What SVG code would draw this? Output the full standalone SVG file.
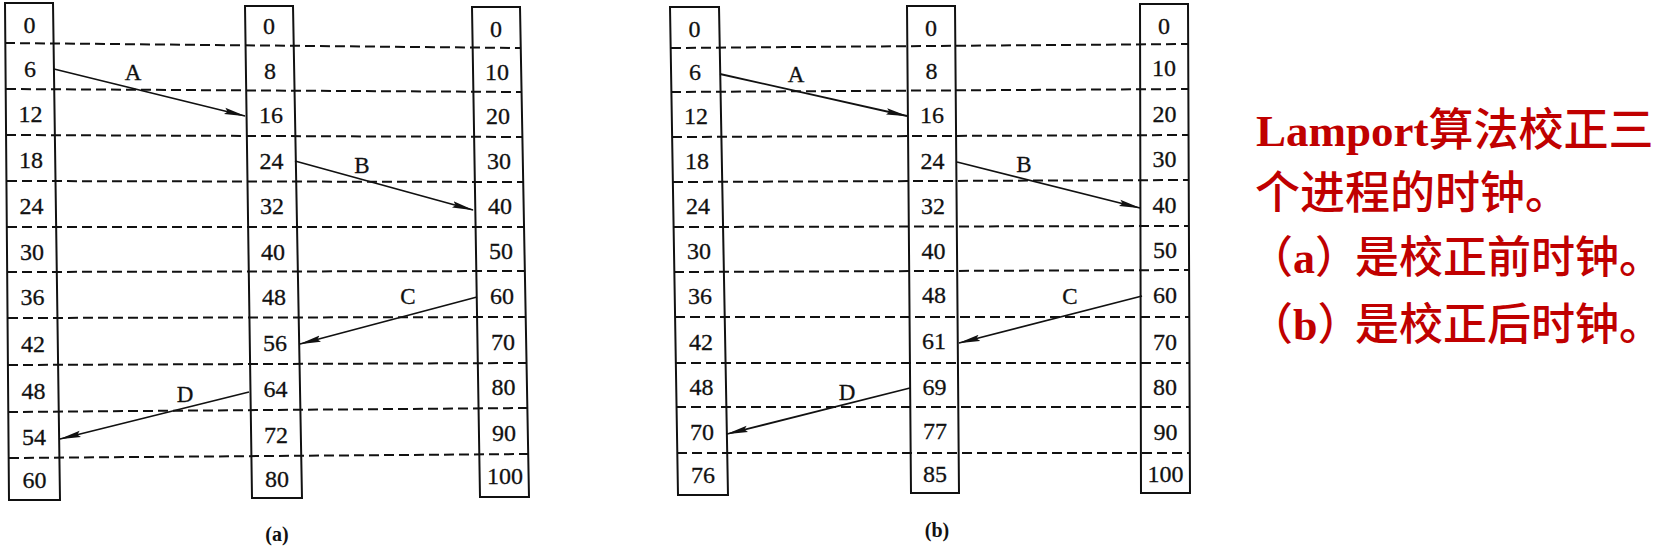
<svg xmlns="http://www.w3.org/2000/svg" width="1663" height="552" viewBox="0 0 1663 552">
<style>
.col{fill:none;stroke:#111;stroke-width:2}
.dash{stroke:#111;stroke-width:2;stroke-dasharray:10 5;fill:none}
.num{font-family:"Liberation Serif","Times New Roman",serif;font-size:24px;text-anchor:middle;fill:#111;stroke:#111;stroke-width:0.3}
.lbl{font-family:"Liberation Serif","Times New Roman",serif;font-size:23px;text-anchor:middle;fill:#111;stroke:#111;stroke-width:0.3}
.cap{font-family:"Liberation Serif","Times New Roman",serif;font-size:20px;font-weight:bold;text-anchor:middle;fill:#111}
.msg{stroke:#111;stroke-width:1.8;fill:none;marker-end:url(#ah)}
.red{font-family:"Noto Sans CJK SC",sans-serif;font-size:45px;font-weight:500;fill:#C00000}
.red2{font-family:"Noto Sans CJK SC",sans-serif;font-size:44px;font-weight:500;fill:#C00000}
.rb{font-family:"Liberation Serif","Times New Roman",serif;font-weight:bold}
</style>
<defs>
<marker id="ah" viewBox="0 0 22 8" refX="21" refY="4" markerWidth="22" markerHeight="8" markerUnits="userSpaceOnUse" orient="auto">
<path d="M0,0.8 L22,4 L0,7.2 L3,4 z" fill="#111"/>
</marker>
</defs>
<rect width="1663" height="552" fill="#fff"/>

<g id="grid-a">
<line class="dash" x1="5" y1="43" x2="521" y2="48"/>
<line class="dash" x1="6" y1="89" x2="522" y2="92"/>
<line class="dash" x1="6" y1="135" x2="522" y2="137"/>
<line class="dash" x1="7" y1="181" x2="523" y2="182"/>
<line class="dash" x1="7" y1="227" x2="524" y2="227"/>
<line class="dash" x1="7" y1="272" x2="525" y2="271"/>
<line class="dash" x1="8" y1="318" x2="526" y2="317"/>
<line class="dash" x1="8" y1="365" x2="527" y2="363"/>
<line class="dash" x1="8" y1="412" x2="527" y2="408"/>
<line class="dash" x1="9" y1="458" x2="528" y2="454"/>
</g>
<g id="grid-b">
<line class="dash" x1="671" y1="48" x2="1188" y2="44"/>
<line class="dash" x1="671" y1="92" x2="1188" y2="89"/>
<line class="dash" x1="672" y1="137" x2="1189" y2="135"/>
<line class="dash" x1="673" y1="182" x2="1189" y2="180"/>
<line class="dash" x1="674" y1="227" x2="1189" y2="226"/>
<line class="dash" x1="674" y1="272" x2="1189" y2="270"/>
<line class="dash" x1="675" y1="317" x2="1189" y2="317"/>
<line class="dash" x1="676" y1="363" x2="1189" y2="363"/>
<line class="dash" x1="676" y1="407" x2="1190" y2="407"/>
<line class="dash" x1="677" y1="453" x2="1190" y2="453"/>
</g>

<g id="a-p1">
<polygon class="col" points="5,3 53,3 60,500 9,500"/>
<text class="num" x="29.5" y="33">0</text>
<text class="num" x="30" y="77">6</text>
<text class="num" x="30.5" y="122">12</text>
<text class="num" x="31" y="168">18</text>
<text class="num" x="31.5" y="214">24</text>
<text class="num" x="32" y="260">30</text>
<text class="num" x="32.5" y="305">36</text>
<text class="num" x="33" y="352">42</text>
<text class="num" x="33.5" y="399">48</text>
<text class="num" x="34" y="445">54</text>
<text class="num" x="34.5" y="488">60</text>
</g>
<g id="a-p2">
<polygon class="col" points="245,6 293,6 302,498 252,498"/>
<text class="num" x="269" y="34">0</text>
<text class="num" x="270" y="79">8</text>
<text class="num" x="271" y="123">16</text>
<text class="num" x="271.5" y="169">24</text>
<text class="num" x="272" y="214">32</text>
<text class="num" x="273" y="260">40</text>
<text class="num" x="274" y="305">48</text>
<text class="num" x="275" y="351">56</text>
<text class="num" x="275.5" y="397">64</text>
<text class="num" x="276" y="443">72</text>
<text class="num" x="277" y="487">80</text>
</g>
<g id="a-p3">
<polygon class="col" points="472,7 520,7 529,497 480,497"/>
<text class="num" x="496" y="37">0</text>
<text class="num" x="497" y="80">10</text>
<text class="num" x="498" y="124">20</text>
<text class="num" x="499" y="169">30</text>
<text class="num" x="500" y="214">40</text>
<text class="num" x="501" y="259">50</text>
<text class="num" x="502" y="304">60</text>
<text class="num" x="503" y="350">70</text>
<text class="num" x="503.5" y="395">80</text>
<text class="num" x="504" y="441">90</text>
<text class="num" x="505" y="484">100</text>
</g>

<g id="b-p1">
<polygon class="col" points="670,7 719,7 728,495 678,495"/>
<text class="num" x="694.5" y="37">0</text>
<text class="num" x="695" y="80">6</text>
<text class="num" x="696" y="124">12</text>
<text class="num" x="697" y="169">18</text>
<text class="num" x="698" y="214">24</text>
<text class="num" x="699" y="259">30</text>
<text class="num" x="700" y="304">36</text>
<text class="num" x="701" y="350">42</text>
<text class="num" x="701.5" y="395">48</text>
<text class="num" x="702" y="440">70</text>
<text class="num" x="703" y="483">76</text>
</g>
<g id="b-p2">
<polygon class="col" points="907,6 955,6 959,493 911,493"/>
<text class="num" x="931" y="36">0</text>
<text class="num" x="931.5" y="79">8</text>
<text class="num" x="932" y="123">16</text>
<text class="num" x="932.5" y="169">24</text>
<text class="num" x="933" y="214">32</text>
<text class="num" x="933.5" y="259">40</text>
<text class="num" x="934" y="303">48</text>
<text class="num" x="934" y="349">61</text>
<text class="num" x="934.5" y="395">69</text>
<text class="num" x="935" y="439">77</text>
<text class="num" x="935" y="482">85</text>
</g>
<g id="b-p3">
<polygon class="col" points="1140,4 1188,4 1190,493 1141,493"/>
<text class="num" x="1164" y="34">0</text>
<text class="num" x="1164" y="76">10</text>
<text class="num" x="1164.5" y="122">20</text>
<text class="num" x="1164.5" y="167">30</text>
<text class="num" x="1164.5" y="213">40</text>
<text class="num" x="1165" y="258">50</text>
<text class="num" x="1165" y="303">60</text>
<text class="num" x="1165" y="350">70</text>
<text class="num" x="1165" y="395">80</text>
<text class="num" x="1165.5" y="440">90</text>
<text class="num" x="1165.5" y="482">100</text>
</g>

<g id="connectors">
<line class="msg" x1="54" y1="69" x2="245" y2="116"/>
<line class="msg" x1="295" y1="161" x2="473" y2="210"/>
<line class="msg" x1="477" y1="297" x2="300" y2="344"/>
<line class="msg" x1="249" y1="392" x2="60" y2="439"/>
<line class="msg" x1="720" y1="74" x2="907" y2="116"/>
<line class="msg" x1="957" y1="162" x2="1140" y2="208"/>
<line class="msg" x1="1142" y1="296" x2="959" y2="343"/>
<line class="msg" x1="910" y1="388" x2="727" y2="434"/>
</g>
<g id="labels">
<text class="lbl" x="133" y="80">A</text>
<text class="lbl" x="362" y="173">B</text>
<text class="lbl" x="408" y="304">C</text>
<text class="lbl" x="185" y="402">D</text>
<text class="lbl" x="796" y="82">A</text>
<text class="lbl" x="1024" y="172">B</text>
<text class="lbl" x="1070" y="304">C</text>
<text class="lbl" x="847" y="400">D</text>
<text class="cap" x="277" y="541">(a)</text>
<text class="cap" x="937" y="537">(b)</text>
</g>

<g id="note">
<text class="red" x="1256" y="146"><tspan class="rb">Lamport</tspan>算法校正三</text>
<text class="red" x="1255" y="209">个进程的时钟。</text>
<text class="red2" x="1249" y="273">（<tspan class="rb">a</tspan>）<tspan x="1355">是校正前时钟。</tspan></text>
<text class="red2" x="1249" y="340">（<tspan class="rb">b</tspan>）<tspan x="1355">是校正后时钟。</tspan></text>
</g>
</svg>
